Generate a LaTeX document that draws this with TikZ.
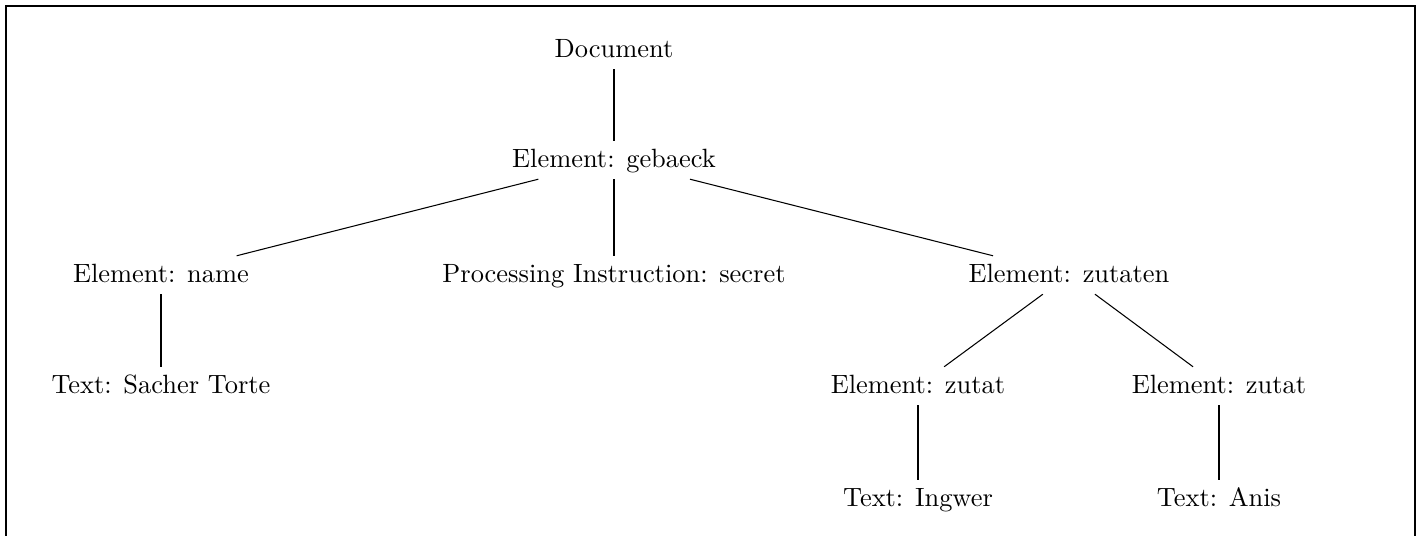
\documentclass[tikz,border=0pt]{standalone}
\begin{document}
\begin{tikzpicture}[x=0.3785pt,y=-0.3785pt,
  tn/.style={inner sep=3.3pt, text height=1.5ex, text depth=0.25ex},
  edge/.style={draw, line width=0.4pt},
  frame/.style={line width=0.8pt}]
\useasboundingbox (0,0) rectangle (1422,536);
\draw[frame] (6,540) -- (6,6) -- (1415,6) -- (1415,540);
\node[tn] (doc) at (614,50) {Document};
\node[tn] (geb) at (614,160) {Element: gebaeck};
\node[tn] (name) at (161,275) {Element: name};
\node[tn] (pi) at (614,275) {Processing Instruction: secret};
\node[tn] (zutaten) at (1069,275) {Element: zutaten};
\node[tn] (sacher) at (161,386) {Text: Sacher Torte};
\node[tn] (zutat1) at (918,386) {Element: zutat};
\node[tn] (zutat2) at (1219,386) {Element: zutat};
\node[tn] (ingwer) at (918,499) {Text: Ingwer};
\node[tn] (anis) at (1219,499) {Text: Anis};
\draw[edge] (doc) -- (geb);
\draw[edge] (geb) -- (name);
\draw[edge] (geb) -- (pi);
\draw[edge] (geb) -- (zutaten);
\draw[edge] (name) -- (sacher);
\draw[edge] (zutaten) -- (zutat1);
\draw[edge] (zutaten) -- (zutat2);
\draw[edge] (zutat1) -- (ingwer);
\draw[edge] (zutat2) -- (anis);
\end{tikzpicture}
\end{document}
